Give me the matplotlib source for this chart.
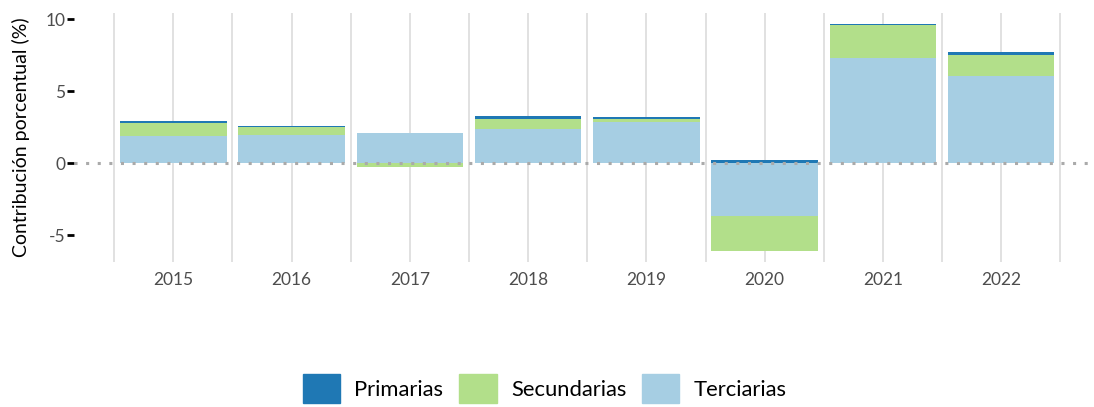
import matplotlib.pyplot as plt
import numpy as np
from matplotlib.patches import Patch

# datos
anios = ["2015", "2016", "2017", "2018", "2019", "2020", "2021", "2022"]
terciarias = [1.90, 1.94, 2.08, 2.36, 2.87, -3.66, 7.31, 6.04]
secundarias = [0.88, 0.56, -0.25, 0.70, 0.19, -2.43, 2.27, 1.46]
primarias = [0.14, 0.07, 0.0, 0.20, 0.13, 0.20, 0.07, 0.21]

series = [("Terciarias", terciarias, "#a6cee3"),
          ("Secundarias", secundarias, "#b2df8a"),
          ("Primarias", primarias, "#1f78b4")]

plt.rcParams['font.family'] = ['Lato', 'DejaVu Sans']

fig = plt.figure(figsize=(10.94, 4.07), dpi=100)
ax = fig.add_axes([0.0676, 0.356, 0.9287, 0.612])

x = np.arange(len(anios))
pos = np.zeros(len(anios))
neg = np.zeros(len(anios))
for nombre, vals, color in series:
    v = np.array(vals)
    base = np.where(v >= 0, pos, neg)
    ax.bar(x, v, bottom=base, width=0.9, color=color, zorder=2)
    pos = pos + np.where(v >= 0, v, 0)
    neg = neg + np.where(v < 0, v, 0)

# rejilla vertical
for xi in np.arange(-0.5, len(anios) + 0.5, 0.5):
    ax.axvline(xi, color="#d9d9d9", lw=1.1, zorder=0)

ax.axhline(0, color="#aaaaaa", lw=2.2, linestyle=(0, (1, 2.8)), zorder=3)

ax.set_xlim(-0.84, 7.75)
ax.set_ylim(-6.875, 10.42)
ax.set_xticks(x)
ax.set_xticklabels(anios)
ax.set_yticks([-5, 0, 5, 10])
ax.set_yticklabels(["-5", "0", "5", "10"])
ax.tick_params(axis="x", length=0, labelsize=12.5, labelcolor="#4d4d4d", pad=7)
ax.tick_params(axis="y", length=5, width=2, color="black", labelsize=12.5,
               labelcolor="#4d4d4d", pad=1)
for s in ax.spines.values():
    s.set_visible(False)
ax.set_ylabel("Contribución porcentual (%)", fontsize=14, labelpad=11)

handles = [Patch(color=c) for _, _, c in series[::-1]]
labels = [n for n, _, _ in series[::-1]]
fig.legend(handles, labels, loc="center", bbox_to_anchor=(0.498, 0.045), ncol=3,
           frameon=False, fontsize=15.8, handlelength=1.7, handleheight=1.7,
           handletextpad=0.64, columnspacing=0.73, borderpad=0)

fig.savefig("out.png", dpi=100)
